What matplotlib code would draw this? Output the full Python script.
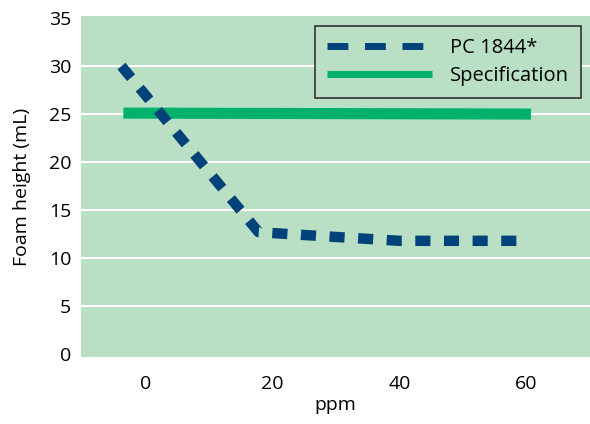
import numpy as np
import matplotlib.pyplot as plt

plt.rcParams['font.family'] = ['Open Sans', 'DejaVu Sans']

# data
ppm = [-3.8, 17.8, 30, 40, 60.5]
foam = [30.0, 12.7, 12.2, 11.8, 11.8]
spec_x = [-3.5, 60.7]
spec_y = [25.1, 25.0]

bg = '#b9dfc4'
blue = '#00427a'
green = '#00b16b'

fig = plt.figure(figsize=(5.9, 4.24), dpi=100)
ax = fig.add_axes([0.137, 0.158, 0.863, 0.804])
ax.set_facecolor(bg)

ax.plot(ppm, foam, color=blue, lw=7.5, dashes=(1.45, 1.3),
        dash_capstyle='butt', label='PC 1844*', zorder=3)
ax.plot(spec_x, spec_y, color=green, lw=8, solid_capstyle='butt',
        label='Specification', zorder=2)

ax.set_xlim(-10.2, 70)
ax.set_ylim(-0.3, 35.2)
ax.set_xticks([0, 20, 40, 60])
ax.set_yticks(np.arange(0, 36, 5))
ax.yaxis.grid(True, color='white', lw=1.5)
ax.yaxis.get_gridlines()[-1].set_visible(False)
ax.yaxis.get_gridlines()[0].set_visible(False)
ax.set_axisbelow(True)
for s in ax.spines.values():
    s.set_visible(False)
ax.tick_params(length=0, labelsize=14, pad=7)
ax.tick_params(axis='x', pad=13)
ax.set_xlabel('ppm', fontsize=14, labelpad=2)
ax.set_ylabel('Foam height (mL)', fontsize=14, labelpad=13)

leg = ax.legend(loc='upper right', bbox_to_anchor=(0.983, 0.972), fontsize=14.5,
                frameon=True, fancybox=False, handlelength=5.2,
                borderpad=0.6, labelspacing=0.4, handletextpad=0.9,
                borderaxespad=0)
leg.get_frame().set_facecolor(bg)
leg.get_frame().set_edgecolor('#333333')
leg.get_frame().set_linewidth(1.2)
leg.get_frame().set_alpha(1)
leg.get_lines()[0].set_linewidth(5)
leg.get_lines()[0].set_dashes((3.0, 2.4))
leg.get_lines()[1].set_linewidth(5)

fig.savefig('out.png', dpi=100)
